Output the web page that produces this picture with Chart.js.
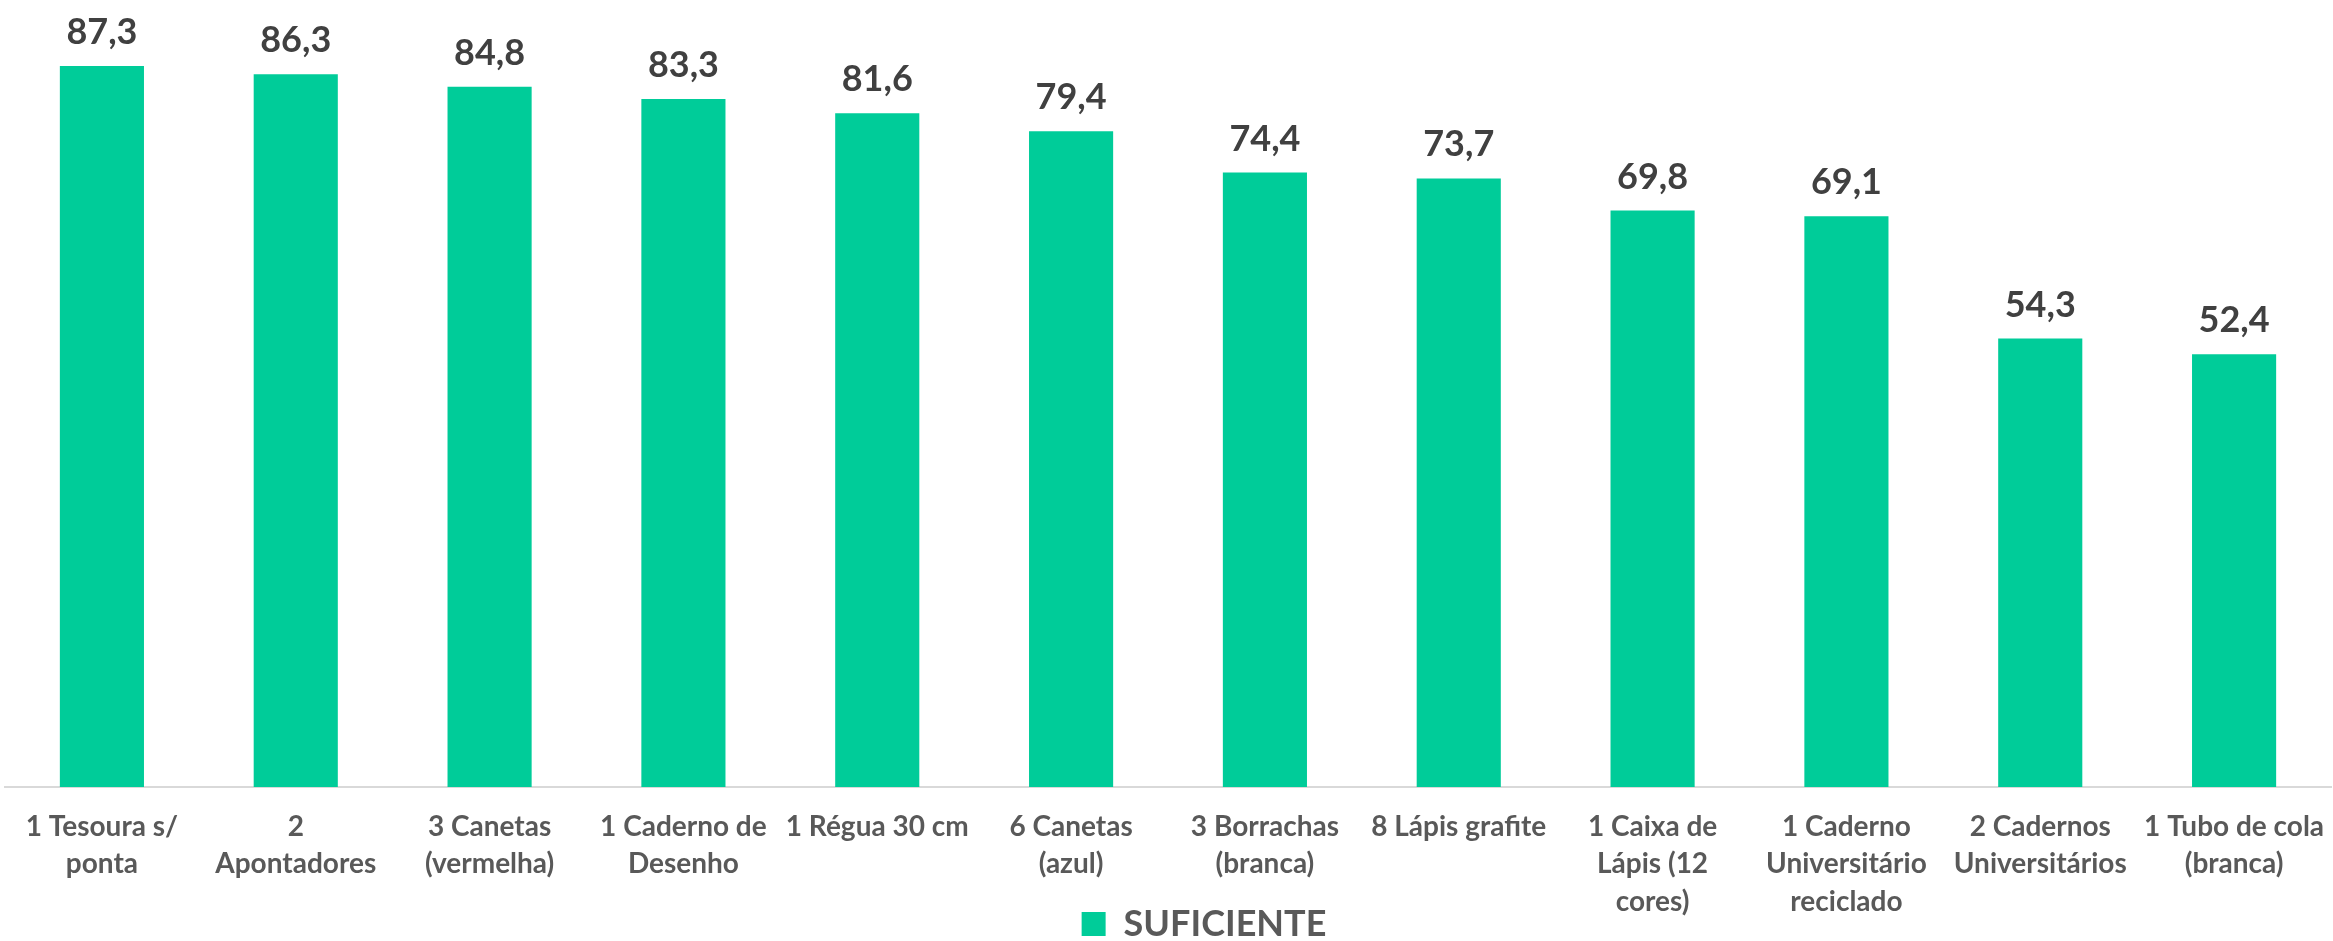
<!DOCTYPE html>
<html>
<head>
<meta charset="utf-8">
<script src="https://cdn.jsdelivr.net/npm/chart.js@4"></script>
<style>
  body { margin: 0; background: #fff; }
  #wrap { width: 2333px; height: 941px; position: relative; }
</style>
</head>
<body>
<div id="wrap"><canvas id="myChart"></canvas></div>
<script>
// data
const categories = [
    ['1 Tesoura s/', 'ponta'],
    ['2', 'Apontadores'],
    ['3 Canetas', '(vermelha)'],
    ['1 Caderno de', 'Desenho'],
    ['1 Régua 30 cm'],
    ['6 Canetas', '(azul)'],
    ['3 Borrachas', '(branca)'],
    ['8 Lápis grafite'],
    ['1 Caixa de', 'Lápis (12', 'cores)'],
    ['1 Caderno', 'Universitário', 'reciclado'],
    ['2 Cadernos', 'Universitários'],
    ['1 Tubo de cola', '(branca)']
];
const suficiente = [87.3, 86.3, 84.8, 83.3, 81.6, 79.4, 74.4, 73.7, 69.8, 69.1, 54.3, 52.4];
const seriesName = 'SUFICIENTE';

const FONT = 'Lato, "Noto Sans", sans-serif';
const H = 941;
const AXIS_Y = 787; // where the category axis sits

// values above each bar, 1 decimal with comma
const valueLabels = {
    id: 'valueLabels',
    afterDatasetsDraw(chart) {
        const ctx = chart.ctx;
        const meta = chart.getDatasetMeta(0);
        ctx.save();
        ctx.font = 'bold 36px ' + FONT;
        ctx.fillStyle = '#404040';
        ctx.textAlign = 'center';
        ctx.textBaseline = 'alphabetic';
        meta.data.forEach((bar, i) => {
            const txt = suficiente[i].toFixed(1).replace('.', ',');
            ctx.fillText(txt, bar.x, bar.y - 22);
        });
        ctx.restore();
    }
};

// legend takes no room in the layout, it sits under the labels like in excel
const legendSpot = {
    id: 'legendSpot',
    beforeLayout(chart) {
        const lg = chart.legend;
        if (lg && !lg._patched) {
            const fit = lg.fit;
            lg.fit = function () {
                fit.call(this);
                this.height = 0;
            };
            lg._patched = true;
        }
    },
    afterLayout(chart) {
        const lg = chart.legend;
        const dx = 36;
        lg.left += dx;
        lg.right += dx;
        lg.top = 898;
        lg.bottom = H;
    }
};

const ctx = document.getElementById('myChart').getContext('2d');
const myChart = new Chart(ctx, {
    type: 'bar',
    data: {
        labels: categories,
        datasets: [{
            label: seriesName,
            data: suficiente,
            backgroundColor: '#00CC99',
            barPercentage: 0.434,
            categoryPercentage: 1
        }]
    },
    options: {
        responsive: true,
        maintainAspectRatio: false,
        animation: false,
        layout: { padding: { left: 5, right: 2, top: 0, bottom: 0 } },
        plugins: {
            tooltip: { enabled: false },
            legend: {
                position: 'bottom',
                labels: {
                    boxWidth: 24,
                    boxHeight: 24,
                    padding: 8,
                    color: '#595959',
                    font: { family: FONT, size: 36, weight: 'bold' }
                }
            }
        },
        scales: {
            x: {
                grid: { display: false, drawTicks: false },
                border: { display: true, color: '#d9d9d9', width: 2 },
                ticks: {
                    color: '#595959',
                    padding: 21,
                    maxRotation: 0,
                    autoSkip: false,
                    font: { family: FONT, size: 28, weight: 'bold', lineHeight: 1.34 }
                },
                afterFit(scale) {
                    scale.height = H - AXIS_Y;
                    scale.paddingLeft = 0;
                    scale.paddingRight = 0;
                }
            },
            y: {
                display: false,
                min: 0,
                max: 95.3
            }
        }
    },
    plugins: [valueLabels, legendSpot]
});
</script>
</body>
</html>
